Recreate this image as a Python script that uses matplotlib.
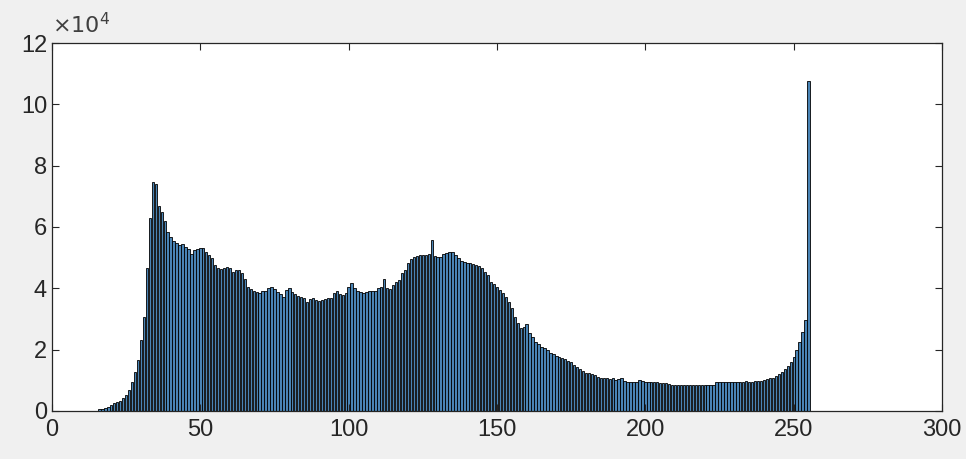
import matplotlib
matplotlib.use("Agg")
import matplotlib.pyplot as plt
import numpy as np

# histogram counts per gray level 0..255, in units of 1e4
counts_0_39 = [0, 0, 0, 0, 0, 0, 0, 0, 0, 0,
               0, 0, 0, 0, 0, 0, 0.05, 0.08, 0.10, 0.14,
               0.20, 0.25, 0.28, 0.33, 0.41, 0.52, 0.70, 0.96, 1.28, 1.66,
               2.30, 3.07, 4.65, 6.28, 7.48, 7.40, 6.70, 6.50, 6.20, 5.85]
counts_40_79 = [5.68, 5.55, 5.47, 5.41, 5.45, 5.36, 5.27, 5.12, 5.25, 5.28,
                5.32, 5.30, 5.20, 5.09, 4.98, 4.76, 4.65, 4.62, 4.65, 4.68,
                4.65, 4.54, 4.60, 4.60, 4.49, 4.30, 4.05, 3.97, 3.91, 3.89,
                3.84, 3.91, 3.92, 4.00, 4.05, 3.97, 3.89, 3.82, 3.71, 3.95]
counts_80_119 = [4.00, 3.89, 3.82, 3.75, 3.71, 3.67, 3.57, 3.64, 3.67, 3.62,
                 3.60, 3.62, 3.64, 3.67, 3.67, 3.86, 3.92, 3.82, 3.78, 3.84,
                 4.05, 4.18, 4.00, 3.92, 3.89, 3.86, 3.89, 3.92, 3.92, 3.92,
                 4.00, 4.05, 4.29, 4.00, 3.97, 4.10, 4.22, 4.27, 4.49, 4.60]
counts_120_159 = [4.82, 4.95, 5.03, 5.05, 5.08, 5.08, 5.10, 5.11, 5.58, 5.05,
                  5.03, 5.01, 5.12, 5.16, 5.20, 5.20, 5.09, 4.98, 4.90, 4.87,
                  4.84, 4.82, 4.79, 4.76, 4.73, 4.65, 4.54, 4.43, 4.22, 4.14,
                  4.05, 3.95, 3.84, 3.71, 3.57, 3.35, 3.08, 2.86, 2.70, 2.75]
counts_160_199 = [2.84, 2.53, 2.42, 2.26, 2.18, 2.10, 2.04, 1.99, 1.90, 1.85,
                  1.79, 1.77, 1.72, 1.68, 1.64, 1.59, 1.50, 1.42, 1.36, 1.32,
                  1.25, 1.23, 1.21, 1.16, 1.12, 1.09, 1.07, 1.07, 1.03, 1.07,
                  1.01, 1.03, 1.09, 0.98, 0.96, 0.96, 0.96, 0.96, 1.01, 0.99]
counts_200_239 = [0.96, 0.96, 0.96, 0.96, 0.93, 0.92, 0.90, 0.90, 0.88, 0.86,
                  0.86, 0.86, 0.86, 0.86, 0.86, 0.86, 0.86, 0.86, 0.86, 0.86,
                  0.86, 0.86, 0.86, 0.86, 0.96, 0.93, 0.93, 0.93, 0.93, 0.93,
                  0.93, 0.93, 0.93, 0.96, 0.98, 0.96, 0.96, 0.98, 0.98, 0.99]
counts_240_255 = [1.01, 1.03, 1.07, 1.09, 1.14, 1.20, 1.28, 1.36, 1.47, 1.61,
                  1.77, 1.99, 2.26, 2.59, 2.97, 10.77]

counts = (counts_0_39 + counts_40_79 + counts_80_119 + counts_120_159
          + counts_160_199 + counts_200_239 + counts_240_255)
levels = np.arange(len(counts))

x_ticks = [0, 50, 100, 150, 200, 250, 300]
y_ticks = [0, 2, 4, 6, 8, 10, 12]

plt.rcParams["font.family"] = ["Liberation Sans", "DejaVu Sans"]
txt = "#262626"

fig = plt.figure(figsize=(9.66, 4.59), dpi=100, facecolor="#f0f0f0")
ax = fig.add_axes([0.0538, 0.1046, 0.9214, 0.8017])

ax.bar(levels, counts, width=0.8, color="#4a84b5", edgecolor="black", linewidth=0.6)

ax.set_xlim(0, 300)
ax.set_ylim(0, 12)
ax.set_xticks(x_ticks)
ax.set_yticks(y_ticks)
ax.tick_params(direction="in", length=5, width=0.8, colors=txt, labelsize=17,
               top=True, right=True)
ax.tick_params(axis="x", pad=6)
for s in ax.spines.values():
    s.set_color(txt)
    s.set_linewidth(0.9)

ax.text(0, 1.012, r"$\times 10^{4}$", transform=ax.transAxes, ha="left",
        va="bottom", fontsize=16, color="#404040")

fig.savefig("out.png", dpi=100, facecolor=fig.get_facecolor())
